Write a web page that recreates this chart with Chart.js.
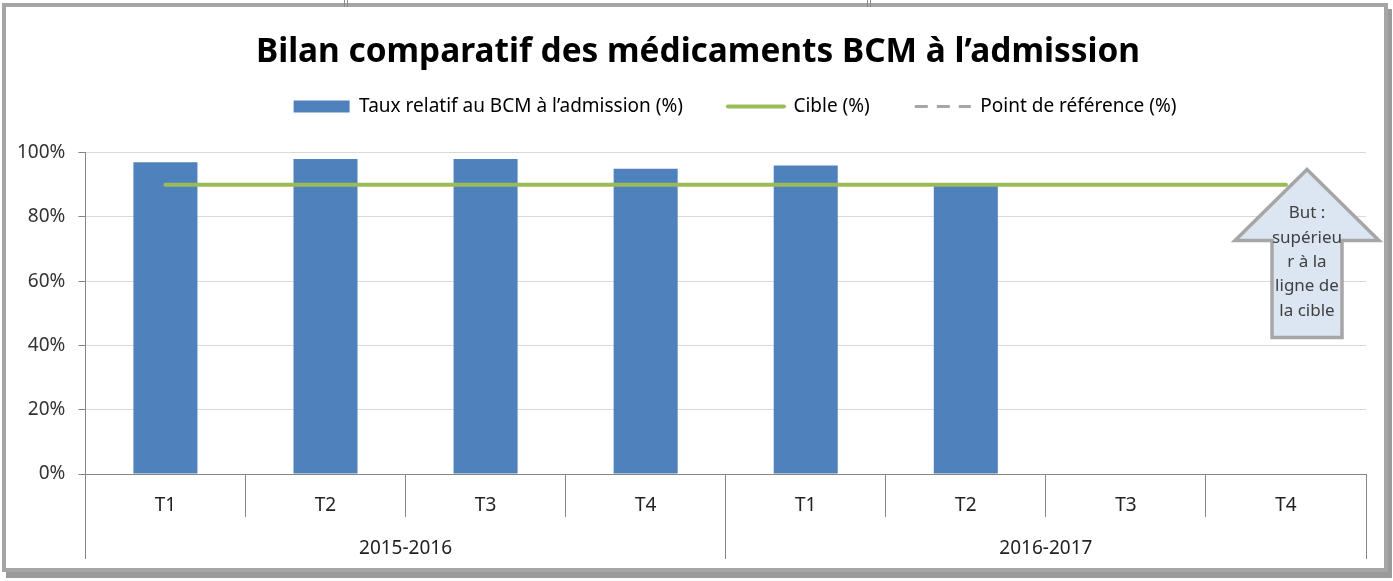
<!DOCTYPE html>
<html lang="fr">
<head>
  <meta charset="UTF-8">
  <title>Bilan comparatif des médicaments BCM à l’admission</title>
  <script src="https://cdn.jsdelivr.net/npm/chart.js"></script>
  <style>
    html, body { margin: 0; padding: 0; background: #fff; }
    #wrap { position: relative; width: 1393px; height: 581px; }
    #frame {
      position: absolute; left: 2px; top: 3px; width: 1378px; height: 561px;
      border: 4px solid #a5a5a5; box-shadow: 4px 6px 0 #9a9a9a; pointer-events: none;
    }
    .mark { position: absolute; top: 0; width: 1px; height: 7px; background: #8c8c8c; }
  </style>
</head>
<body>
  <div id="wrap">
    <canvas id="bcm" width="1393" height="581"></canvas>
    <div id="frame"></div>
    <div class="mark" style="left:344px"></div><div class="mark" style="left:347px"></div>
    <div class="mark" style="left:867px"></div><div class="mark" style="left:870px"></div>
  </div>
  <script>
    // données
    const trimestres = ['T1', 'T2', 'T3', 'T4', 'T1', 'T2', 'T3', 'T4'];
    const annees = ['2015-2016', '2016-2017'];
    const tauxBCM = [97, 98, 98, 95, 96, 90, null, null];
    const cible = [90, 90, 90, 90, 90, 90, 90, 90];
    const pointReference = [null, null, null, null, null, null, null, null];
    const texteBut = ['But :', 'supérieu', 'r à la', 'ligne de', 'la cible'];

    Chart.defaults.font.family = 'Noto Sans';
    Chart.defaults.font.size = 19;
    Chart.defaults.color = '#2b2b2b';

    // espace sous la légende + décalage du titre et de la légende
    const miseEnPage = {
      id: 'miseEnPage',
      beforeInit(chart) {
        const fit = chart.legend.fit;
        chart.legend.fit = function () {
          fit.bind(chart.legend)();
          this.height += 26.5;
        };
      },
      afterLayout(chart) {
        const t = chart.titleBlock, l = chart.legend;
        t.left += 13; t.right += 13;
        l.left += 50; l.right += 50;
      }
    };

    // flèche "But"
    const flecheBut = {
      id: 'flecheBut',
      afterDraw(chart) {
        const { ctx, chartArea } = chart;
        const cx = chartArea.right - 59;
        const tip = chartArea.top + 17;
        const headY = tip + 71, bottom = tip + 168;
        const headW = 72, shaftW = 35;
        ctx.save();
        ctx.beginPath();
        ctx.moveTo(cx, tip);
        ctx.lineTo(cx + headW, headY);
        ctx.lineTo(cx + shaftW, headY);
        ctx.lineTo(cx + shaftW, bottom);
        ctx.lineTo(cx - shaftW, bottom);
        ctx.lineTo(cx - shaftW, headY);
        ctx.lineTo(cx - headW, headY);
        ctx.closePath();
        ctx.fillStyle = '#dce6f2';
        ctx.fill();
        ctx.lineWidth = 3.5;
        ctx.strokeStyle = '#a6a6a6';
        ctx.stroke();
        ctx.fillStyle = '#404040';
        ctx.font = '17px "Noto Sans"';
        ctx.textAlign = 'center';
        ctx.textBaseline = 'middle';
        texteBut.forEach((l, i) => ctx.fillText(l, cx, tip + 44 + i * 24.3));
        ctx.restore();
      }
    };

    const ctx = document.getElementById('bcm').getContext('2d');
    new Chart(ctx, {
      type: 'bar',
      data: {
        labels: trimestres,
        datasets: [
          {
            label: 'Taux relatif au BCM à l’admission (%)',
            data: tauxBCM,
            backgroundColor: '#4f81bd',
            borderColor: '#4f81bd',
            borderWidth: 0,
            barPercentage: 0.4,
            categoryPercentage: 1,
            order: 2
          },
          {
            type: 'line',
            label: 'Cible (%)',
            data: cible,
            borderColor: '#9bbb59',
            backgroundColor: '#9bbb59',
            borderWidth: 4,
            borderCapStyle: 'round',
            pointRadius: 0,
            order: 1
          },
          {
            type: 'line',
            label: 'Point de référence (%)',
            data: pointReference,
            borderColor: '#a6a6a6',
            backgroundColor: '#a6a6a6',
            borderWidth: 3,
            borderDash: [13, 9],
            pointRadius: 0,
            order: 0
          }
        ]
      },
      options: {
        responsive: false,
        animation: false,
        layout: { padding: { left: 4, right: 27, top: 0, bottom: 22 } },
        plugins: {
          title: {
            display: true,
            text: 'Bilan comparatif des médicaments BCM à l’admission',
            color: '#000',
            font: { size: 33.4, weight: 'bold' },
            padding: { top: 32, bottom: -20 }
          },
          legend: {
            labels: {
              usePointStyle: true,
              pointStyleWidth: 56,
              boxHeight: 12,
              padding: 45,
              color: '#1e1e1e',
              generateLabels(chart) {
                return chart.data.datasets.map((ds, i) => ({
                  text: ds.label,
                  datasetIndex: i,
                  fillStyle: ds.backgroundColor,
                  strokeStyle: ds.borderColor,
                  lineWidth: ds.type === 'line' ? ds.borderWidth : 0,
                  lineDash: ds.borderDash || [],
                  lineCap: ds.borderCapStyle || 'butt',
                  pointStyle: ds.type === 'line' ? 'line' : 'rect',
                  hidden: false
                }));
              }
            }
          },
          tooltip: { enabled: false }
        },
        scales: {
          y: {
            min: 0,
            max: 100,
            ticks: { stepSize: 20, padding: 13, color: '#333', callback: v => v + '%' },
            grid: { color: '#d9d9d9', tickColor: '#868686', tickLength: 7 },
            border: { color: '#868686' }
          },
          x: {
            weight: 0,
            ticks: { padding: -22.4, color: '#222' },
            grid: { offset: true, drawOnChartArea: false, tickLength: 43, color: '#868686' },
            border: { color: '#868686' },
            afterFit(scale) { scale.height = 43; }
          },
          x2: {
            type: 'category',
            position: 'bottom',
            weight: 1,
            labels: annees,
            offset: true,
            ticks: { padding: -21.4, color: '#222' },
            grid: { offset: true, drawOnChartArea: false, tickLength: 42, color: '#868686' },
            border: { display: false },
            afterFit(scale) { scale.height = 42; }
          }
        }
      },
      plugins: [miseEnPage, flecheBut]
    });
  </script>
</body>
</html>
